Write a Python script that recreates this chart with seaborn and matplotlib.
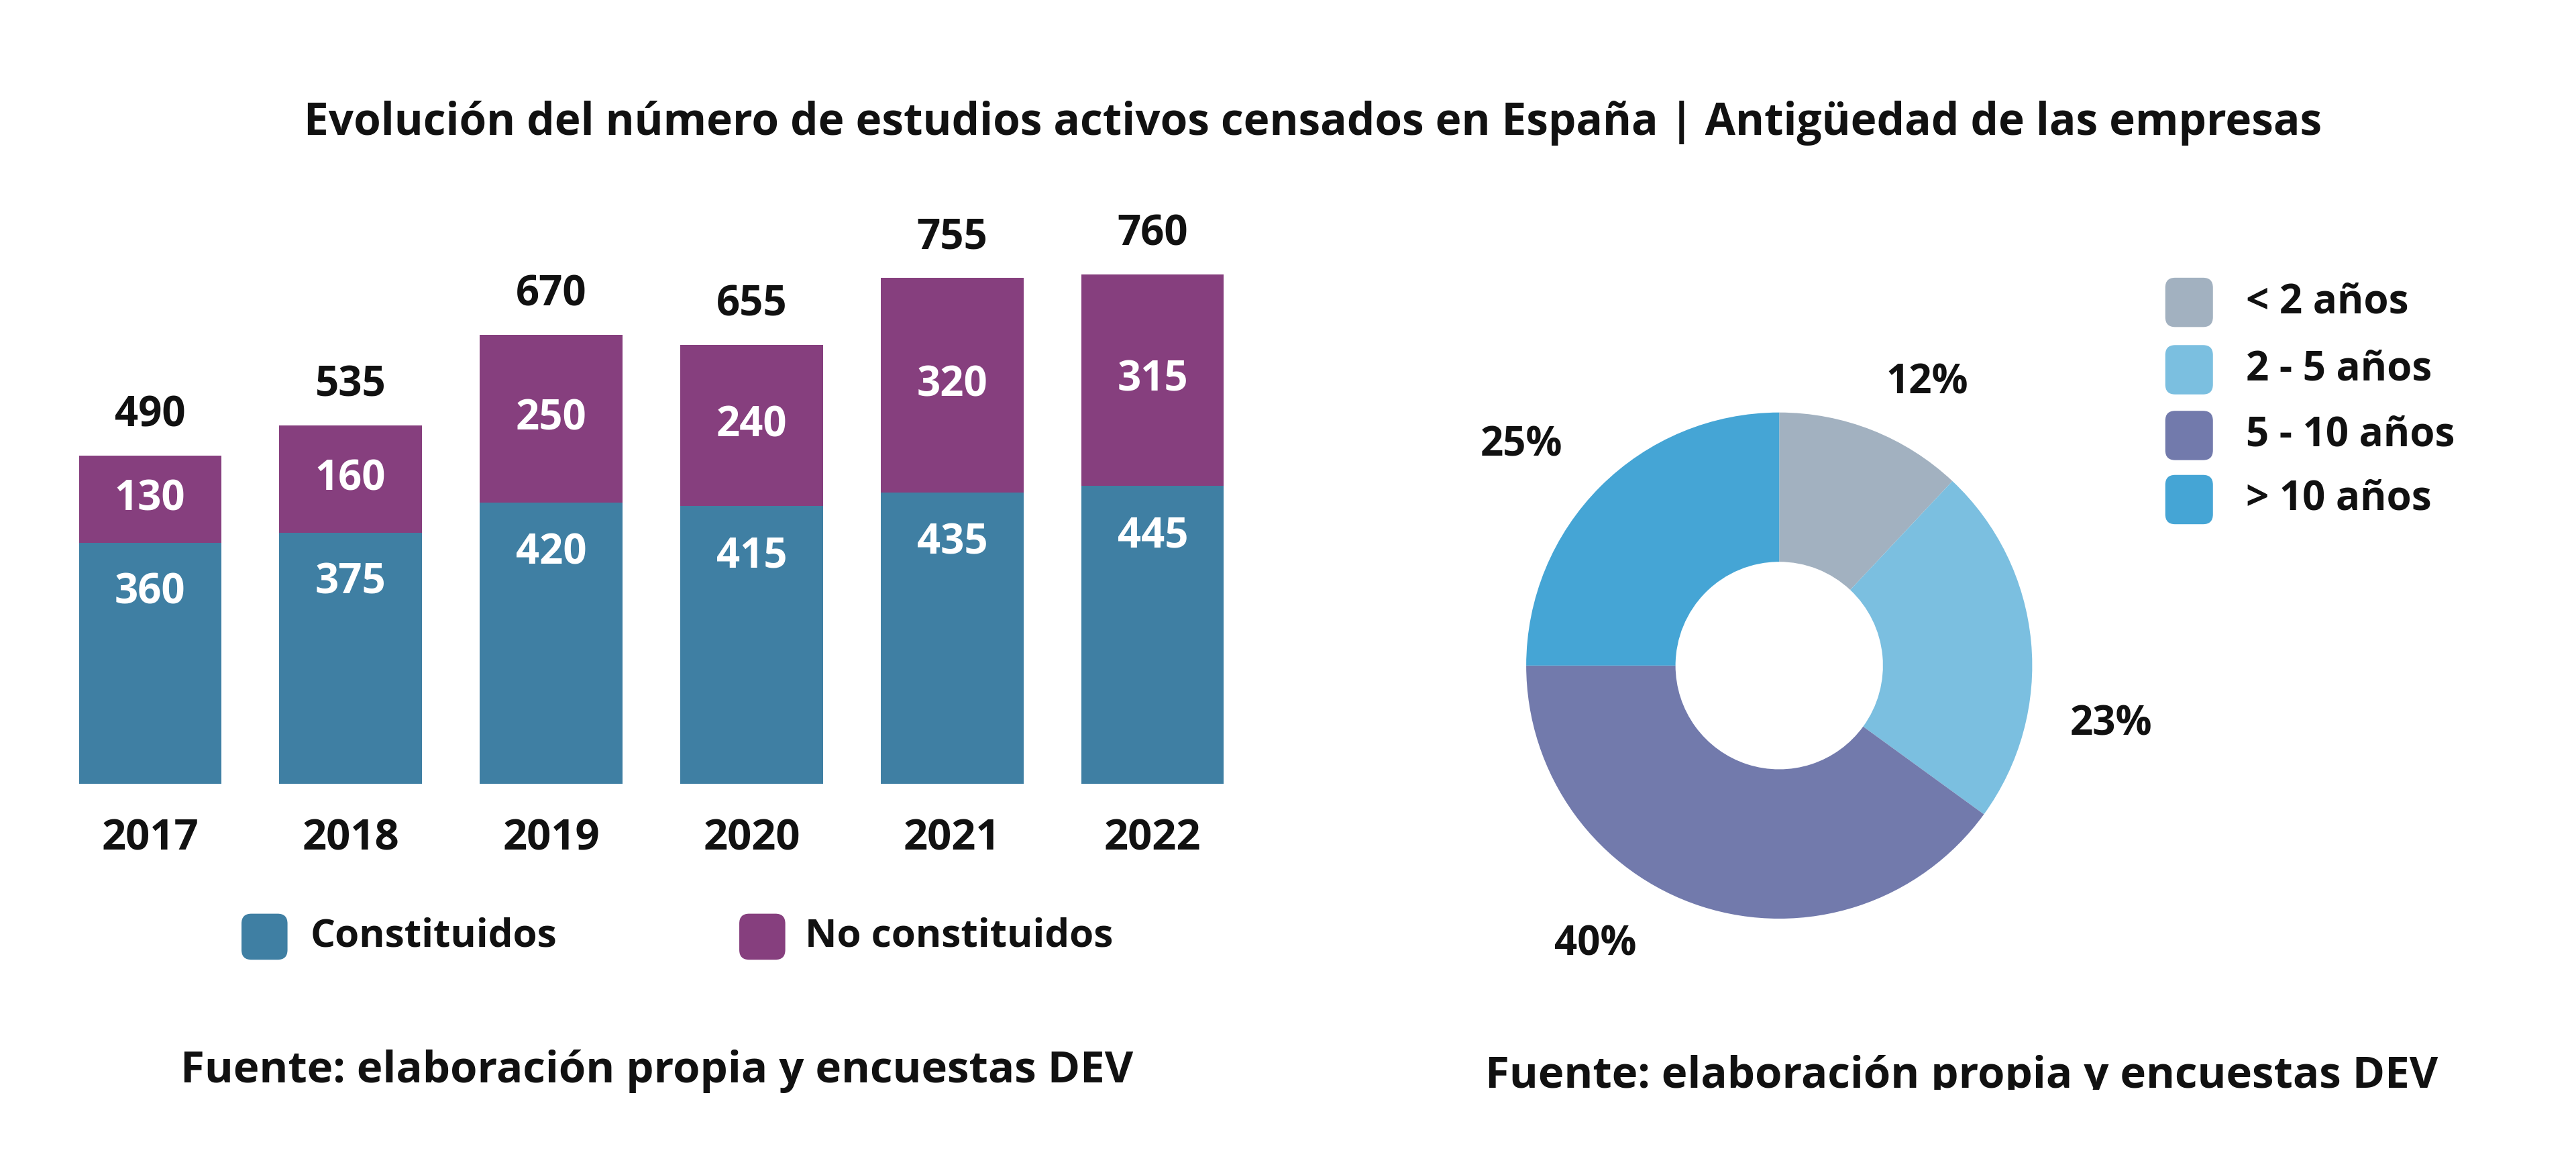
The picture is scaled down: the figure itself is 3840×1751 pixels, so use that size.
import matplotlib
matplotlib.use("Agg")
import matplotlib.pyplot as plt
from matplotlib.patches import FancyBboxPatch, Rectangle
import pandas as pd
import seaborn as sns

# Data
years = ["2017", "2018", "2019", "2020", "2021", "2022"]
constituidos = [360, 375, 420, 415, 435, 445]
no_constituidos = [130, 160, 250, 240, 320, 315]
totales = [490, 535, 670, 655, 755, 760]

age_labels = ["< 2 años", "2 - 5 años", "5 - 10 años", "> 10 años"]
age_shares = [12, 23, 40, 25]

title = "Evolución del número de estudios activos censados en España | Antigüedad de las empresas"
source = "Fuente: elaboración propia y encuestas DEV"

blue_bar = "#3F7FA3"
purple_bar = "#863F7E"
donut_colors = ["#A2B1C0", "#7BBFE0", "#727AAC", "#45A5D5"]

# layout grid of the reference (px), converted to figure fractions
W, H = 1568, 715
S = 16 / W  # inches per grid px


def fx(px):
    return px / W


def fy(py):
    return 1 - py / H


def swatch(fig, x0, y0, x1, y1, color):
    p = FancyBboxPatch((x0 * S, (H - y1) * S), (x1 - x0) * S, (y1 - y0) * S,
                       boxstyle="round,pad=0,rounding_size=%f" % (6 * S),
                       transform=fig.dpi_scale_trans, facecolor=color,
                       edgecolor="none")
    fig.add_artist(p)


def main():
    sns.set_theme(style="white")
    plt.rcParams["font.family"] = ["Open Sans", "DejaVu Sans"]
    plt.rcParams["font.weight"] = "bold"

    fig = plt.figure(figsize=(16, 16 * 1751 / 3840), dpi=240)
    fig.patch.set_facecolor("white")

    fig.text(fx(799), fy(75), title, ha="center", va="center",
             fontsize=19.7, fontweight="bold", color="#111111")

    # Stacked bars
    df = pd.DataFrame({"year": years, "const": constituidos,
                       "no": no_constituidos, "total": totales})
    ax = fig.add_axes([fx(48), fy(477), fx(745) - fx(48), fy(167) - fy(477)])
    sns.barplot(data=df, x="year", y="total", color=purple_bar, width=0.71,
                saturation=1, linewidth=0, ax=ax)
    sns.barplot(data=df, x="year", y="const", color=blue_bar, width=0.71,
                saturation=1, linewidth=0, ax=ax)
    ax.set_xlim(-0.355, 5.355)
    ax.set_ylim(0, 760)
    ax.set_xlabel("")
    ax.set_ylabel("")
    ax.set_yticks([])
    ax.tick_params(axis="x", length=0, pad=15, labelsize=19)
    for lbl in ax.get_xticklabels():
        lbl.set_fontweight("bold")
        lbl.set_color("#111111")
    sns.despine(ax=ax, left=True, bottom=True)

    for i in range(len(years)):
        ax.text(i, totales[i] + 60, str(totales[i]), ha="center", va="center",
                fontsize=18.5, fontweight="bold", color="#111111", clip_on=False)
        ax.text(i, constituidos[i] - 75, str(constituidos[i]), ha="center",
                va="center", fontsize=18.5, fontweight="bold", color="white")
        ax.text(i, constituidos[i] + no_constituidos[i] / 2,
                str(no_constituidos[i]), ha="center", va="center",
                fontsize=18.5, fontweight="bold", color="white")

    # bar legend
    swatch(fig, 147, 556, 175, 584, blue_bar)
    fig.text(fx(189), fy(570), "Constituidos", ha="left", va="center",
             fontsize=17.5, fontweight="bold", color="#111111")
    swatch(fig, 450, 556, 478, 584, purple_bar)
    fig.text(fx(490), fy(570), "No constituidos", ha="left", va="center",
             fontsize=17.5, fontweight="bold", color="#111111")

    # Donut
    cx, cy, R = 1083, 405, 154
    half = 1.25 * R
    ax2 = fig.add_axes([fx(cx - half), fy(cy + half), 2 * half / W, 2 * half / H])
    ax2.pie(age_shares, colors=donut_colors, startangle=90, counterclock=False,
            wedgeprops=dict(width=0.59, linewidth=0))
    ax2.set_xlim(-1.25, 1.25)
    ax2.set_ylim(-1.25, 1.25)
    ax2.axis("off")

    pct_pos = [(0.584, 1.117), (1.312, -0.234), (-0.727, -1.104), (-1.019, 0.870)]
    for (px, py), v in zip(pct_pos, age_shares):
        ax2.text(px, py, "%d%%" % v, ha="center", va="center", fontsize=18,
                 fontweight="bold", color="#111111")

    # donut legend
    for k, (lab, col) in enumerate(zip(age_labels, donut_colors)):
        yc = [184, 225, 265, 304][k]
        swatch(fig, 1318, yc - 15, 1347, yc + 15, col)
        fig.text(fx(1367), fy(yc), lab, ha="left", va="center", fontsize=18,
                 fontweight="bold", color="#111111")

    # sources
    fig.text(fx(400), fy(652), source, ha="center", va="center",
             fontsize=19.6, fontweight="bold", color="#111111")
    fig.text(fx(1194), fy(655), source, ha="center", va="center",
             fontsize=19.6, fontweight="bold", color="#111111")
    # the right-hand source is cut off at the bottom in the original
    fig.add_artist(Rectangle((fx(880), 0), fx(1530) - fx(880), fy(663),
                             transform=fig.transFigure, facecolor="white",
                             edgecolor="none", zorder=10))

    fig.savefig("out.png", dpi=240, facecolor="white")
    plt.close(fig)


if __name__ == "__main__":
    main()
